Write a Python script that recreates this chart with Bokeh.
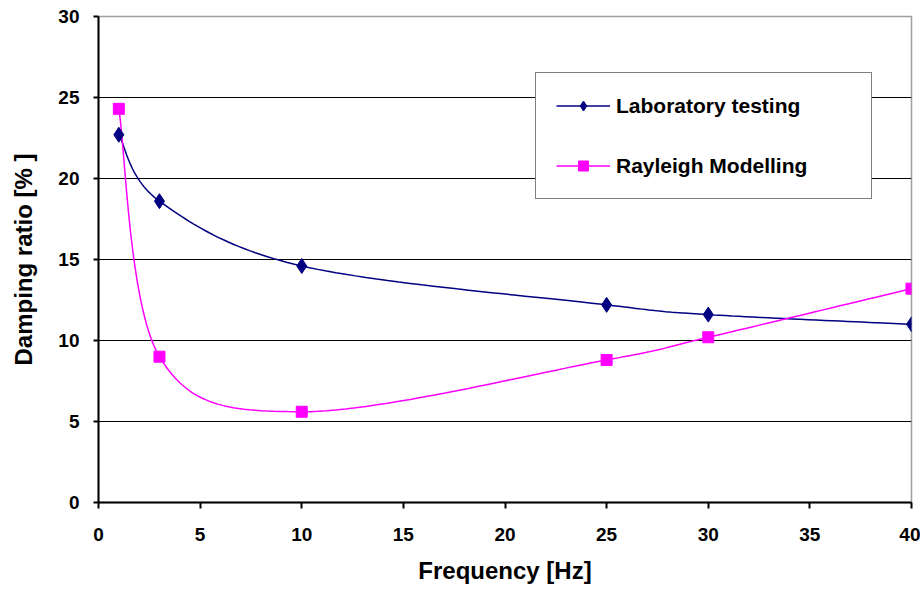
from bokeh.plotting import figure
from bokeh.models import Legend, LegendItem, FixedTicker, Range1d
from bokeh.embed import file_html
from bokeh.resources import INLINE

# ---- data ----
freq_hz = [1, 3, 10, 25, 30, 40]
lab_damping = [22.7, 18.6, 14.6, 12.2, 11.6, 11.0]
rayleigh_damping = [24.3, 9.0, 5.6, 8.8, 10.2, 13.2]
x_ticks = [0, 5, 10, 15, 20, 25, 30, 35, 40]
y_ticks = [0, 5, 10, 15, 20, 25, 30]
series_names = ["Laboratory testing", "Rayleigh Modelling"]

FONT = "Liberation Sans"


def smooth(xs, ys, steps=30):
    """Excel-like smoothed line: cubic Bezier segments with Catmull-Rom control points."""
    n = len(xs)
    px = [xs[0]] + list(xs) + [xs[-1]]
    py = [ys[0]] + list(ys) + [ys[-1]]
    out_x, out_y = [], []
    for i in range(n - 1):
        x0, y0 = px[i + 1], py[i + 1]
        x3, y3 = px[i + 2], py[i + 2]
        x1 = x0 + (px[i + 2] - px[i]) / 6.0
        y1 = y0 + (py[i + 2] - py[i]) / 6.0
        x2 = x3 - (px[i + 3] - px[i + 1]) / 6.0
        y2 = y3 - (py[i + 3] - py[i + 1]) / 6.0
        for k in range(steps + 1):
            if i > 0 and k == 0:
                continue
            t = k / steps
            a = (1 - t) ** 3
            b = 3 * (1 - t) ** 2 * t
            c = 3 * (1 - t) * t ** 2
            d = t ** 3
            out_x.append(a * x0 + b * x1 + c * x2 + d * x3)
            out_y.append(a * y0 + b * y1 + c * y2 + d * y3)
    return out_x, out_y


p = figure(width=920, height=588, output_backend="svg", toolbar_location=None,
           x_range=Range1d(0, 40), y_range=Range1d(0, 30),
           min_border_left=98, min_border_right=9, min_border_top=16, min_border_bottom=86)

p.background_fill_color = "white"
p.border_fill_color = "white"
p.outline_line_color = "#a0a0a0"
p.outline_line_width = 1.5

# grid
p.xgrid.visible = False
p.ygrid.ticker = FixedTicker(ticks=y_ticks[1:-1])
p.ygrid.grid_line_color = "black"
p.ygrid.grid_line_width = 1.2

# axes
for ax in (p.xaxis[0], p.yaxis[0]):
    ax.axis_line_color = "black"
    ax.axis_line_width = 2
    ax.major_tick_line_color = "black"
    ax.major_tick_line_width = 2
    ax.major_tick_in = 0
    ax.major_tick_out = 6
    ax.minor_tick_line_color = None
    ax.major_label_text_font = FONT
    ax.major_label_text_font_style = "bold"
    ax.major_label_text_font_size = "19px"
    ax.major_label_text_color = "black"
    ax.axis_label_text_font = FONT
    ax.axis_label_text_font_style = "bold"
    ax.axis_label_text_font_size = "24px"
    ax.axis_label_text_color = "black"

p.xaxis.ticker = FixedTicker(ticks=x_ticks)
p.yaxis.ticker = FixedTicker(ticks=y_ticks)
p.xaxis.axis_label = "Frequency [Hz]"
p.yaxis.axis_label = "Damping ratio [% ]"
p.xaxis.major_label_standoff = 19
p.xaxis.axis_label_standoff = 13
p.yaxis.major_label_standoff = 14
p.yaxis.axis_label_standoff = 18
p.yaxis.major_tick_out = 5

# series
lx, ly = smooth(freq_hz, lab_damping)
rx, ry = smooth(freq_hz, rayleigh_damping)

r_line_lab = p.line(lx, ly, line_color="#000080", line_width=1.5)
r_line_ray = p.line(rx, ry, line_color="#ff00ff", line_width=1.5)
r_pts_ray = p.scatter(freq_hz, rayleigh_damping, marker="square", size=11,
                      fill_color="#ff00ff", line_color="#ff00ff")
r_pts_lab = p.scatter(freq_hz, lab_damping, marker="diamond", size=15,
                      fill_color="#000080", line_color="#000080")

legend = Legend(items=[
    LegendItem(label=series_names[0], renderers=[r_line_lab, r_pts_lab]),
    LegendItem(label=series_names[1], renderers=[r_line_ray, r_pts_ray]),
], location=(437, 303))
legend.border_line_color = "black"
legend.border_line_width = 1.5
legend.background_fill_color = "white"
legend.background_fill_alpha = 1.0
legend.padding = 20
legend.spacing = 35
legend.glyph_width = 54
legend.glyph_height = 25
legend.label_height = 25
legend.label_width = 235
legend.label_standoff = 6
legend.label_text_font = FONT
legend.label_text_font_style = "bold"
legend.label_text_font_size = "21px"
legend.label_text_color = "black"
legend.margin = 0
p.add_layout(legend)

open("out.html", "w").write(file_html(p, INLINE))
